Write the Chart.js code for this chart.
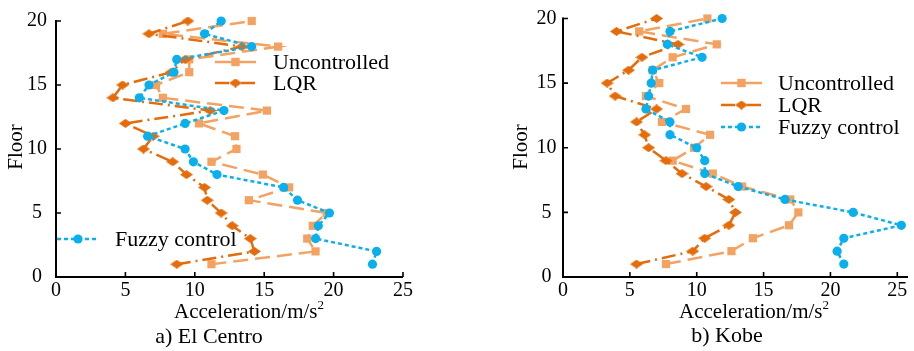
<!DOCTYPE html>
<html><head><meta charset="utf-8">
<script src="https://cdn.jsdelivr.net/npm/chart.js@4"></script>
<style>
html,body{margin:0;padding:0;background:#fff;}
#wrap{position:relative;width:914px;height:351px;overflow:hidden;}
.box{position:absolute;top:0;height:351px;}
</style></head><body>
<div id="wrap">
<div class="box" style="left:0;width:460px"><canvas id="c1"></canvas></div>
<div class="box" style="left:460px;width:454px"><canvas id="c2"></canvas></div>
</div>
<script>
const floors = [1,2,3,4,5,6,7,8,9,10,11,12,13,14,15,16,17,18,19,20];
const xTicks = [0,5,10,15,20,25];
const yTicks = [0,5,10,15,20];
const seriesNames = ['Uncontrolled','LQR','Fuzzy control'];

const elCentroUncontrolled = [11.2,18.7,18.1,18.5,19.5,13.9,16.8,14.9,11.2,13.0,12.9,10.3,15.2,7.7,7.2,9.6,9.6,16.0,7.7,14.1];
const elCentroLQR          = [8.7,14.3,14.0,12.7,11.9,10.9,10.7,9.4,8.4,6.3,7.0,5.0,11.1,4.1,4.8,8.3,9.3,13.4,6.7,9.5];
const elCentroFuzzy        = [22.8,23.1,18.7,18.9,19.7,17.4,16.4,11.6,9.9,9.3,6.6,9.3,12.1,6.0,6.7,8.5,8.7,14.1,10.7,11.9];

const kobeUncontrolled = [7.7,12.6,14.2,16.9,17.6,17.0,13.4,11.2,8.2,9.8,11.0,7.4,9.2,6.2,7.2,6.7,8.2,11.5,5.7,10.8];
const kobeLQR          = [5.5,9.7,10.6,12.4,12.9,12.4,10.7,8.9,7.7,6.4,6.1,5.5,7.0,3.9,3.3,4.9,5.9,8.6,4.0,7.0];
const kobeFuzzy        = [21.0,20.5,21.0,25.3,21.7,16.6,13.1,10.6,10.6,10.0,8.0,8.0,6.2,6.4,6.6,6.7,10.4,7.8,8.0,11.9];

const C_UNC = '#F4A261', C_LQR = '#E46C0A', C_FUZ = '#0AB0EE';
const FONT = '"Liberation Serif","Times New Roman",serif';
Chart.defaults.font.family = FONT;
Chart.defaults.color = '#000';

// flattened diamond marker
const diamond = document.createElement('canvas');
diamond.width = 13; diamond.height = 9;
(function(){const g=diamond.getContext('2d');g.fillStyle=C_LQR;g.beginPath();g.moveTo(0,4.5);g.lineTo(6.5,0);g.lineTo(13,4.5);g.lineTo(6.5,9);g.closePath();g.fill();})();

function pts(vals){ return floors.map((f,i)=>({x:vals[i], y:f})); }

function datasets(unc, lqr, fuz){
  return [
    {label:seriesNames[0], data:pts(unc), showLine:true, borderColor:C_UNC, backgroundColor:C_UNC,
     borderWidth:2.5, borderDash:[15,7], pointStyle:'rect', pointRadius:5.8, pointBorderWidth:0,
     pointBackgroundColor:C_UNC, order:2, clip:false},
    {label:seriesNames[1], data:pts(lqr), showLine:true, borderColor:C_LQR, backgroundColor:C_LQR,
     borderWidth:2.5, borderDash:[14,5,2,5], pointStyle:diamond, pointRadius:6, pointBorderWidth:0,
     order:1, clip:false},
    {label:seriesNames[2], data:pts(fuz), showLine:true, borderColor:C_FUZ, backgroundColor:C_FUZ,
     borderWidth:2.5, borderDash:[4,3], pointStyle:'circle', pointRadius:4.6, pointBorderWidth:0,
     pointBackgroundColor:C_FUZ, order:0, clip:false}
  ];
}

function deco(cfg){
  return {id:'deco', afterDraw(chart){
    const ctx = chart.ctx, xs = chart.scales.x, ys = chart.scales.y;
    const x0 = xs.getPixelForValue(0), y0 = ys.getPixelForValue(0);
    const yTop = ys.getPixelForValue(20), xEnd = xs.right;
    ctx.save();
    ctx.strokeStyle = '#000'; ctx.setLineDash([]);
    ctx.lineWidth = 2;
    ctx.beginPath(); ctx.moveTo(x0, yTop-1); ctx.lineTo(x0, y0); ctx.lineTo(xEnd, y0); ctx.stroke();
    ctx.lineWidth = 1.6;
    ctx.beginPath();
    yTicks.forEach(v=>{const y=ys.getPixelForValue(v); ctx.moveTo(x0, y); ctx.lineTo(x0+5, y);});
    xTicks.forEach(v=>{const x=xs.getPixelForValue(v); ctx.moveTo(x, y0); ctx.lineTo(x, y0-5);});
    ctx.stroke();

    ctx.fillStyle = '#000';
    ctx.font = '21px ' + FONT;
    // Floor
    ctx.save(); ctx.translate(cfg.floorX, cfg.floorY); ctx.rotate(-Math.PI/2);
    ctx.textAlign='center'; ctx.textBaseline='middle'; ctx.fillText('Floor',0,0); ctx.restore();
    // x title with superscript
    const main = 'Acceleration/m/s';
    ctx.font = '21px ' + FONT; const w1 = ctx.measureText(main).width;
    ctx.font = '13px ' + FONT; const w2 = ctx.measureText('2').width;
    const sx = cfg.titleCx - (w1+w2)/2;
    ctx.textAlign='left'; ctx.textBaseline='alphabetic';
    ctx.font = '21px ' + FONT; ctx.fillText(main, sx, cfg.titleBase);
    ctx.font = '13px ' + FONT; ctx.fillText('2', sx+w1, cfg.titleBase-9);
    // caption
    ctx.font = '22px ' + FONT; ctx.textAlign='center';
    ctx.fillText(cfg.caption, cfg.capCx, cfg.capBase);
    // legend
    cfg.legend.forEach(it=>{
      const ds = chart.data.datasets[it.ds];
      ctx.save();
      ctx.strokeStyle = ds.borderColor; ctx.lineWidth = ds.borderWidth;
      ctx.setLineDash(it.ds===0 ? [] : ds.borderDash);
      ctx.beginPath(); ctx.moveTo(it.x1, it.y); ctx.lineTo(it.x2, it.y); ctx.stroke();
      ctx.setLineDash([]);
      const mx = (it.x1+it.x2)/2;
      ctx.fillStyle = ds.borderColor;
      if (it.ds===0){ ctx.fillRect(mx-4.2, it.y-4.2, 8.4, 8.4); }
      else if (it.ds===1){ ctx.drawImage(diamond, mx-6.5, it.y-4.5); }
      else { ctx.beginPath(); ctx.arc(mx, it.y, 4.6, 0, Math.PI*2); ctx.fill(); }
      ctx.restore();
      ctx.fillStyle='#000'; ctx.font='22px '+FONT; ctx.textAlign='left'; ctx.textBaseline='middle';
      ctx.fillText(seriesNames[it.ds], it.tx, it.y+1);
    });
    ctx.restore();
  }};
}

function makeChart(id, dsets, o){
  return new Chart(document.getElementById(id), {
    type:'scatter',
    data:{datasets:dsets},
    options:{
      responsive:true, maintainAspectRatio:false, animation:false, devicePixelRatio:1,
      layout:{padding:{top:17, left:0, right:o.padRight, bottom:0}},
      plugins:{legend:{display:false}, tooltip:{enabled:false}},
      scales:{
        x:{type:'linear', min:0, max:o.xMax,
           afterBuildTicks:s=>{s.ticks = xTicks.map(v=>({value:v}));},
           grid:{display:false, drawTicks:false}, border:{display:false},
           ticks:{font:{size:20, family:FONT}, color:'#000', padding:2, maxRotation:0, autoSkip:false},
           afterFit:s=>{s.height = 74;}},
        y:{type:'linear', min:0, max:20,
           afterBuildTicks:s=>{s.ticks = yTicks.map(v=>({value:v}));},
           grid:{display:false, drawTicks:false}, border:{display:false},
           ticks:{font:{size:20, family:FONT}, color:'#000', padding:o.yPad, crossAlign:'center', autoSkip:false},
           afterFit:s=>{s.width = o.yWidth;}}
      }
    },
    plugins:[deco(o.deco)]
  });
}

makeChart('c1', datasets(elCentroUncontrolled, elCentroLQR, elCentroFuzzy), {
  padRight:57, xMax:25, yWidth:56, yPad:9,
  deco:{floorX:16, floorY:147, titleCx:249, titleBase:318, caption:'a) El Centro', capCx:209, capBase:343,
    legend:[{ds:0,x1:215,x2:256,y:62,tx:273},{ds:1,x1:215,x2:256,y:83,tx:273},{ds:2,x1:57,x2:99,y:239,tx:115}]}
});
makeChart('c2', datasets(kobeUncontrolled, kobeLQR, kobeFuzzy), {
  padRight:5, xMax:25.8, yWidth:103, yPad:6.5,
  deco:{floorX:61, floorY:147, titleCx:294, titleBase:318, caption:'b) Kobe', capCx:267, capBase:342,
    legend:[{ds:0,x1:261,x2:302,y:83,tx:318},{ds:1,x1:261,x2:302,y:105,tx:318},{ds:2,x1:261,x2:302,y:127,tx:318}]}
});
</script>
</body></html>
